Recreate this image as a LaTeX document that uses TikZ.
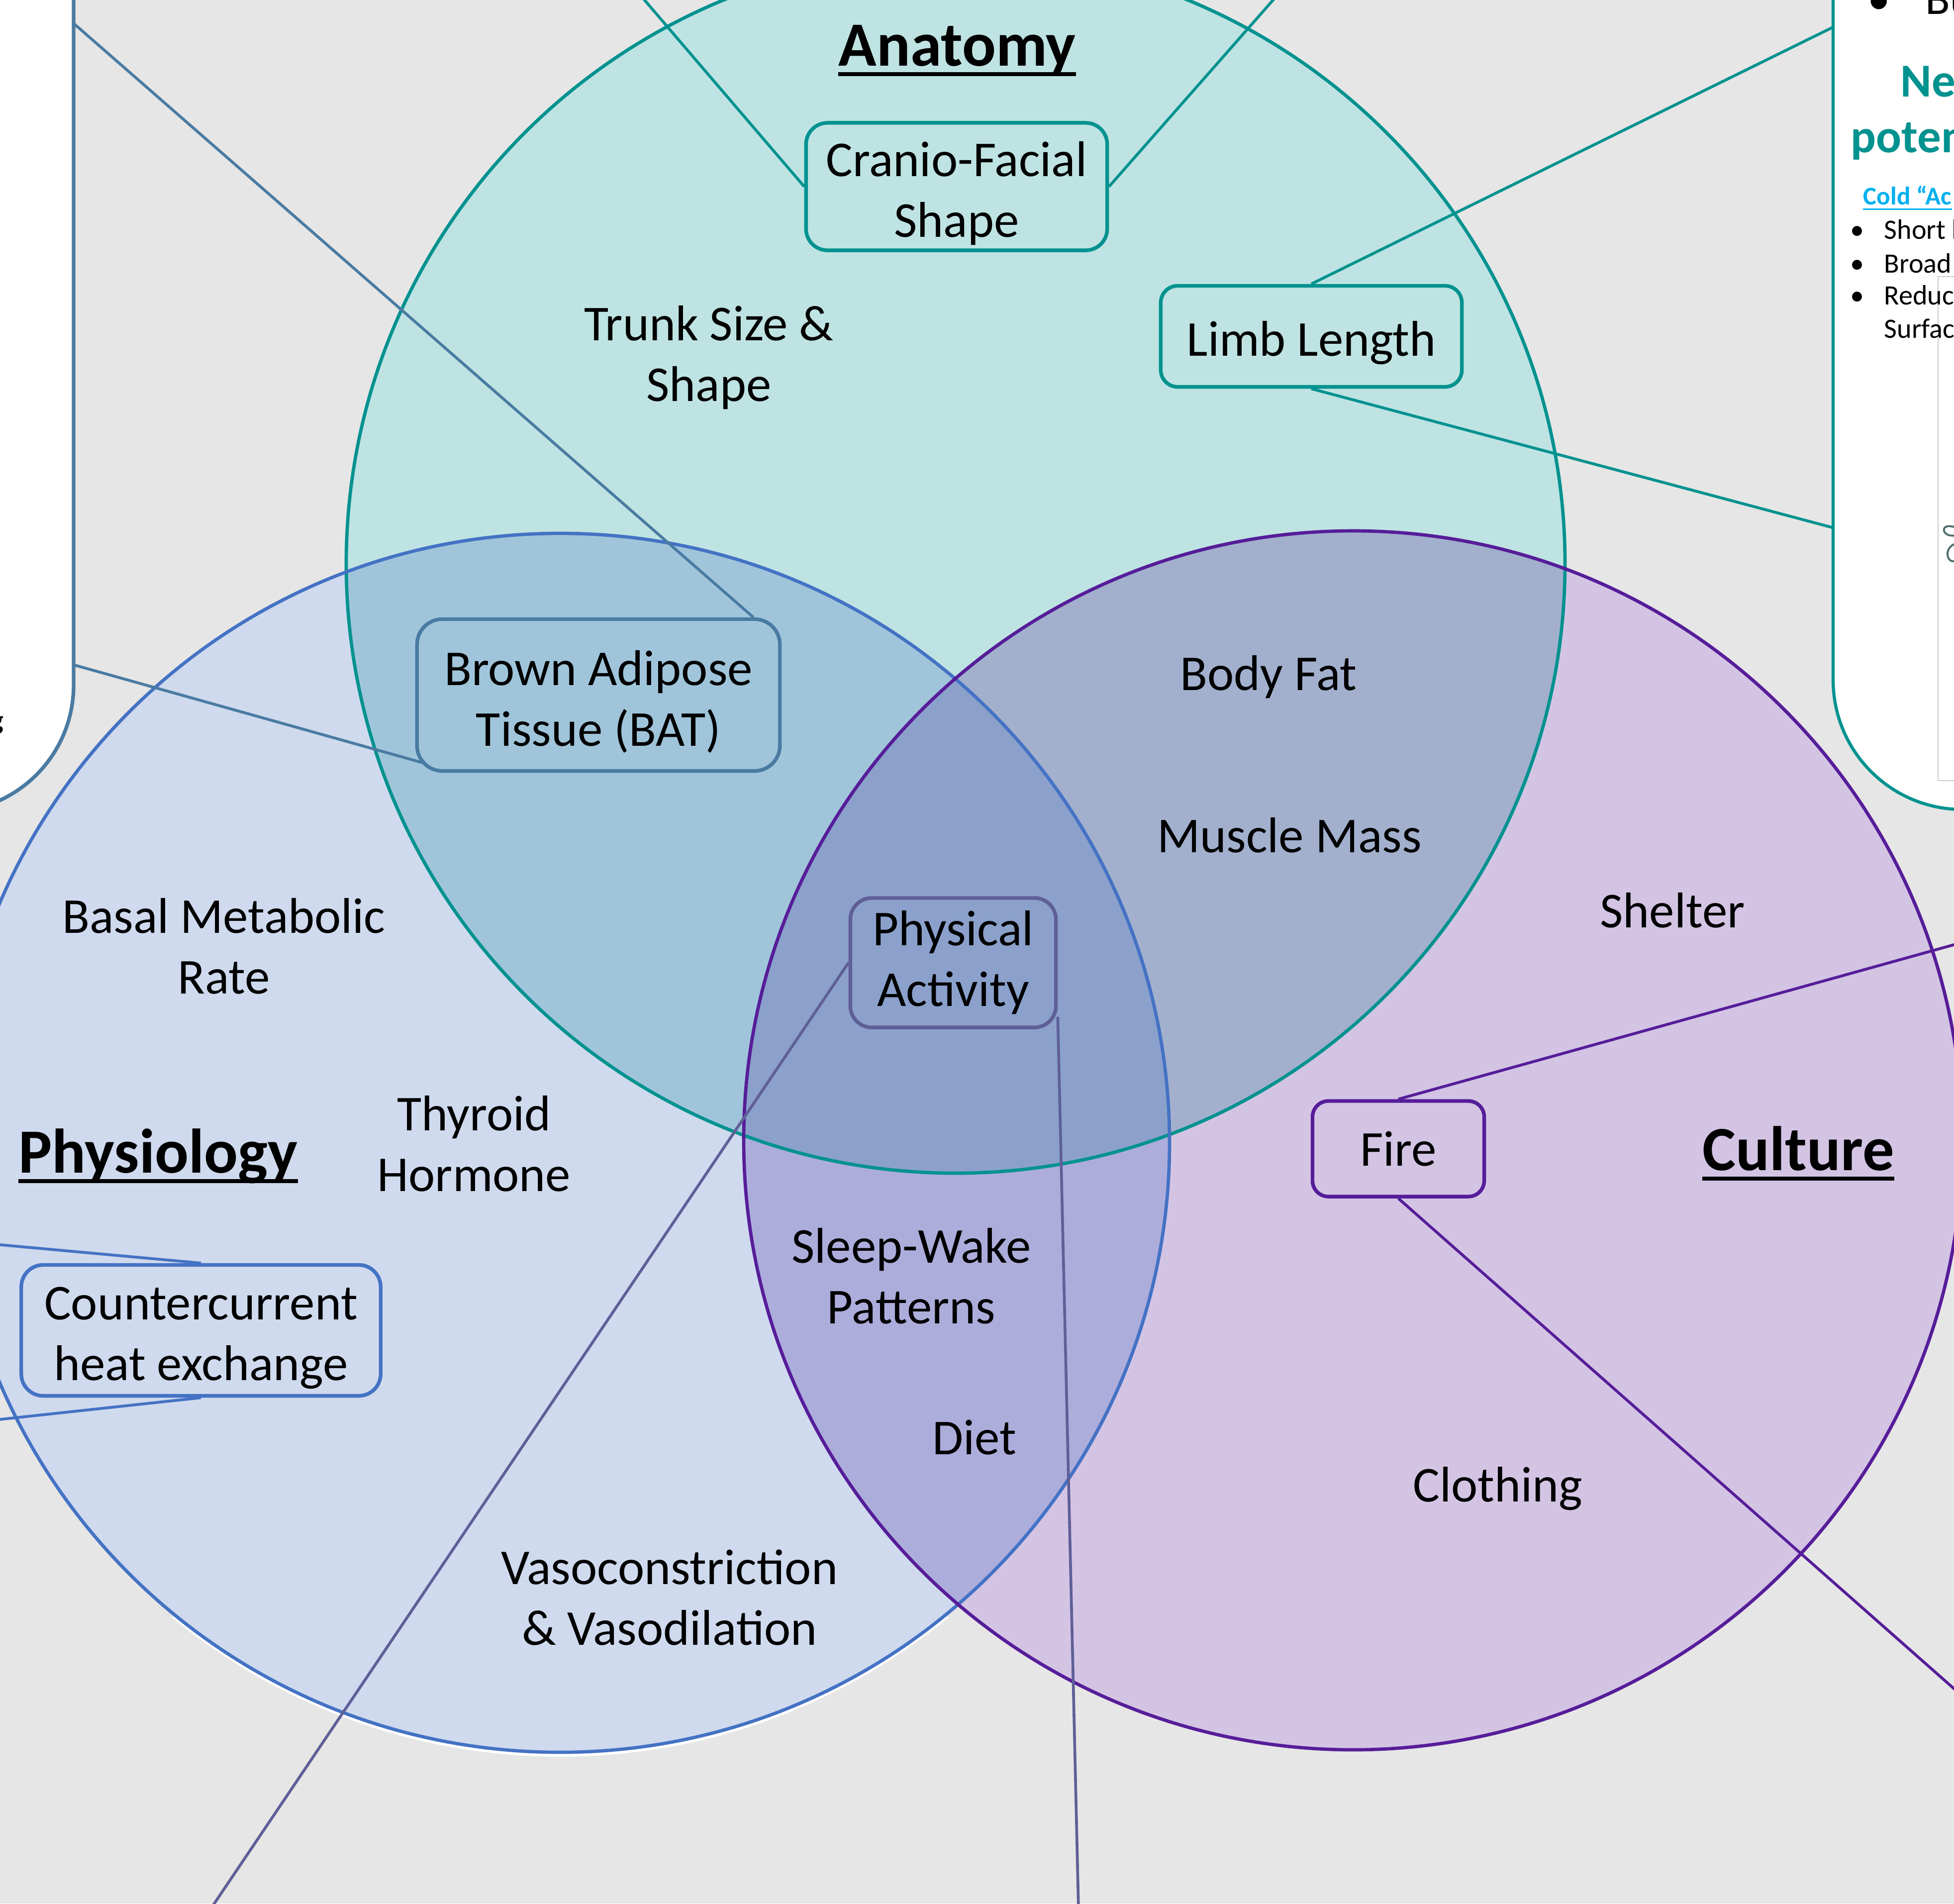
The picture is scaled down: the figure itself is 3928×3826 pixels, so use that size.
\documentclass[tikz,border=0pt]{standalone}
\usepackage{fontspec}
\setmainfont{Carlito}
\usepackage{tikz}
\usetikzlibrary{calc}

\definecolor{bggray}{HTML}{E6E6E6}
\definecolor{anafill}{HTML}{BFE3E3}
\definecolor{phyfill}{HTML}{CFDAEE}
\definecolor{culfill}{HTML}{D4C4E4}
\definecolor{apfill}{HTML}{A0C5DB}
\definecolor{acfill}{HTML}{A2B0CE}
\definecolor{pcfill}{HTML}{ADADDC}
\definecolor{apcfill}{HTML}{8BA1CC}
\definecolor{anateal}{HTML}{00928F}
\definecolor{phyblue}{HTML}{4472C4}
\definecolor{culpurple}{HTML}{561D99}
\definecolor{batblue}{HTML}{4A7BA2}
\definecolor{actpurple}{HTML}{5F5F98}
\definecolor{coldblue}{HTML}{00B0F0}
\definecolor{sketchgreen}{HTML}{506E6B}

\newcommand\lblfont{\fontsize{28.7}{34.7}\selectfont}
\newcommand\headfont{\fontsize{36}{43}\selectfont\bfseries}
\newcommand\topgap{\rule{0pt}{27.5pt}}

\begin{document}
\begin{tikzpicture}
		[x=0.01cm, y=-0.01cm,
		lbl/.style={font=\lblfont,align=center,inner sep=0pt},
		box/.style={draw=#1,line width=2.1pt,font=\lblfont,align=center,inner sep=0pt},
		head/.style={font=\headfont,inner sep=0pt,anchor=base},
		link/.style={line width=1.6pt},
		ring/.style={line width=1.9pt},
		panel/.style={fill=white,line width=2.1pt},
		side/.style={anchor=base west,inner sep=0pt}
		]

        \useasboundingbox (0,0) rectangle (3928,3826);
        \clip (0,0) rectangle (3928,3826);
        \fill[bggray] (0,0) rectangle (3928,3826);

        % Main circles
        \def \rad {1225}
        \coordinate (A) at (1921,1133);
        \coordinate (P) at (1126,2297);
        \coordinate (C) at (2720,2292);

        \fill[anafill] (A) circle (\rad);
        \fill[phyfill] (P) circle (\rad);
        \fill[culfill] (C) circle (\rad);
        \begin{scope}
            \clip (P) circle (\rad);
            \fill[pcfill] (C) circle (\rad);
        \end{scope}
        \begin{scope}
            \clip (A) circle (\rad);
            \fill[apfill] (P) circle (\rad);
            \fill[acfill] (C) circle (\rad);
            \clip (P) circle (\rad);
            \fill[apcfill] (C) circle (\rad);
        \end{scope}

        %white edge under the physiology circle
        \begin{scope}
            \clip (0,3250) rectangle (1915,3826);
            \draw[white,line width=1.6pt] ($(P)+(0,6)$) circle (\rad);
        \end{scope}

        \draw[ring,anateal] (A) circle (\rad);
        \draw[ring,phyblue] (P) circle (\rad);
        \draw[ring,culpurple] (C) circle (\rad);

        % Headings
        \node[head] (anat) at (1924,132) {Anatomy};
        \node[head] (phys) at (318,2357) {Physiology};
        \node[head] (cult) at (3615,2352) {Culture};
        \draw[line width=2.3pt] ($(anat.base west)+(0,17)$) -- ($(anat.base east)+(0,17)$);
        \draw[line width=2.3pt] ($(phys.base west)+(0,17)$) -- ($(phys.base east)+(0,17)$);
        \draw[line width=2.3pt] ($(cult.base west)+(0,17)$) -- ($(cult.base east)+(0,17)$);

        % Free labels
        \node[lbl] (trunk) at (1425,719) {Trunk Size \&\\Shape};
        \node[lbl] (fat) at (2550,1361) {Body Fat};
        \node[lbl] (muscle) at (2592,1679) {Muscle Mass};
        \node[lbl] (shelter) at (3362,1830) {Shelter};
        \node[lbl] (bmr) at (450,1902) {Basal Metabolic\\Rate};
        \node[lbl] (thyroid) at (953,2299) {Thyroid\\Hormone};
        \node[lbl] (sleep) at (1832,2565) {Sleep-Wake\\Patterns};
        \node[lbl] (diet) at (1959,2889) {Diet};
        \node[lbl] (cloth) at (3011,2992) {Clothing};
        \node[lbl] (vaso) at (1346,3211) {Vasoconstriction\\\& Vasodilation};

        % Boxes
        \node[box=anateal,minimum width=6.05cm,minimum height=2.56cm,rounded corners=0.43cm] (cranio) at (1923,375) {\topgap Cranio-Facial\\Shape};
        \node[box=anateal,minimum width=6.05cm,minimum height=2.03cm,rounded corners=0.34cm] (limb) at (2636,676) {\topgap Limb Length};
        \node[box=batblue,minimum width=7.29cm,minimum height=3.05cm,rounded corners=0.51cm] (bat) at (1203,1397) {\topgap Brown Adipose\\Tissue (BAT)};
        \node[box=actpurple,minimum width=4.13cm,minimum height=2.60cm,rounded corners=0.43cm] (activity) at (1916,1935) {Physical\\Activity};
        \node[box=culpurple,minimum width=3.45cm,minimum height=1.92cm,rounded corners=0.32cm] (fire) at (2811,2309) {Fire};
        \node[box=phyblue,minimum width=7.22cm,minimum height=2.63cm,rounded corners=0.44cm] (counter) at (404,2674) {\topgap Countercurrent\\heat exchange};

        % Connectors to the edges
        \coordinate (cranioL) at (1287,-10);
        \coordinate (cranioR) at (2568,-10);
        \coordinate (limbT) at (3690,52);
        \coordinate (limbB) at (3690,1062);
        \coordinate (batT) at (140,40);
        \coordinate (batB) at (140,1334);
        \coordinate (actL) at (424,3836);
        \coordinate (actR) at (2168,3836);
        \coordinate (fireT) at (3938,1896);
        \coordinate (fireB) at (3938,3403);
        \coordinate (countT) at (-10,2501);
        \coordinate (countB) at (-10,2854);

        \draw[link,anateal] (cranio.west) -- (cranioL);
        \draw[link,anateal] (cranio.east) -- (cranioR);
        \draw[link,anateal] (limb.north) -- (limbT);
        \draw[link,anateal] (limb.south) -- (limbB);
        \draw[link,batblue] ($(bat.north east)+(-57,0)$) -- (batT);
        \draw[link,batblue] ($(bat.south west)+(16,-20)$) -- (batB);
        \draw[link,actpurple] (activity.west) -- (actL);
        \draw[link,actpurple] ($(activity.south east)+(0,-25)$) -- (actR);
        \draw[link,culpurple] (fire.north) -- (fireT);
        \draw[link,culpurple] (fire.south) -- (fireB);
        \draw[link,phyblue] (counter.north) -- (countT);
        \draw[link,phyblue] (counter.south) -- (countB);

        % Side panels
        \draw[panel,draw=batblue,rounded corners=2.55cm] (-400,-400) rectangle (148,1632);
        \draw[panel,draw=anateal,line width=1.8pt,rounded corners=2.6cm] (3685,-400) rectangle (4300,1627);

        %left panel fragment
        \node[anchor=base east,inner sep=0pt,font=\fontsize{16}{19}\selectfont\bfseries] (gfrag) at (8,1466) {g};

        %right panel picture
        \filldraw[fill=white,draw=gray!40,line width=0.6pt] (3896,556) rectangle (4000,1569);
        \draw[sketchgreen,line width=1.1pt,line cap=round] (3935,1062) .. controls (3898,1045) and (3900,1082) .. (3932,1076);
        \draw[sketchgreen,line width=1.1pt,line cap=round] (3934,1092) .. controls (3905,1098) and (3912,1138) .. (3935,1126);

        %right panel text
        \node[anchor=base,inner sep=0pt,font=\fontsize{26}{31}\selectfont] (bub) at (3777,28) {\textbullet};
        \node[side,font=\fontsize{26}{31}\selectfont] (bu) at (3870,28) {Bu};
        \node[side,font=\fontsize{27}{32}\selectfont\bfseries,text=anateal] (newl) at (3820,194) {Ne};
        \node[side,font=\fontsize{27}{32}\selectfont\bfseries,text=anateal] (potl) at (3720,306) {poten};
        \node[side,font=\fontsize{14.6}{17}\selectfont\bfseries,text=coldblue] (cold) at (3745,411) {Cold “Ac};
        \draw[coldblue,line width=0.85pt] ($(cold.base west)+(0,9)$) -- ($(cold.base east)+(0,9)$);
        \node[anchor=base,inner sep=0pt,font=\fontsize{16}{19}\selectfont] (b1) at (3733,480) {\textbullet};
        \node[anchor=base,inner sep=0pt,font=\fontsize{16}{19}\selectfont] (b2) at (3733,548) {\textbullet};
        \node[anchor=base,inner sep=0pt,font=\fontsize{16}{19}\selectfont] (b3) at (3733,612) {\textbullet};
        \node[side,font=\fontsize{16}{19}\selectfont] (short) at (3787,480) {Short l};
        \node[side,font=\fontsize{16}{19}\selectfont] (broad) at (3787,548) {Broad};
        \node[side,font=\fontsize{16}{19}\selectfont] (reduce) at (3787,612) {Reduce};
        \node[side,font=\fontsize{16}{19}\selectfont] (surface) at (3787,679) {Surface};
\end{tikzpicture}
\end{document}
